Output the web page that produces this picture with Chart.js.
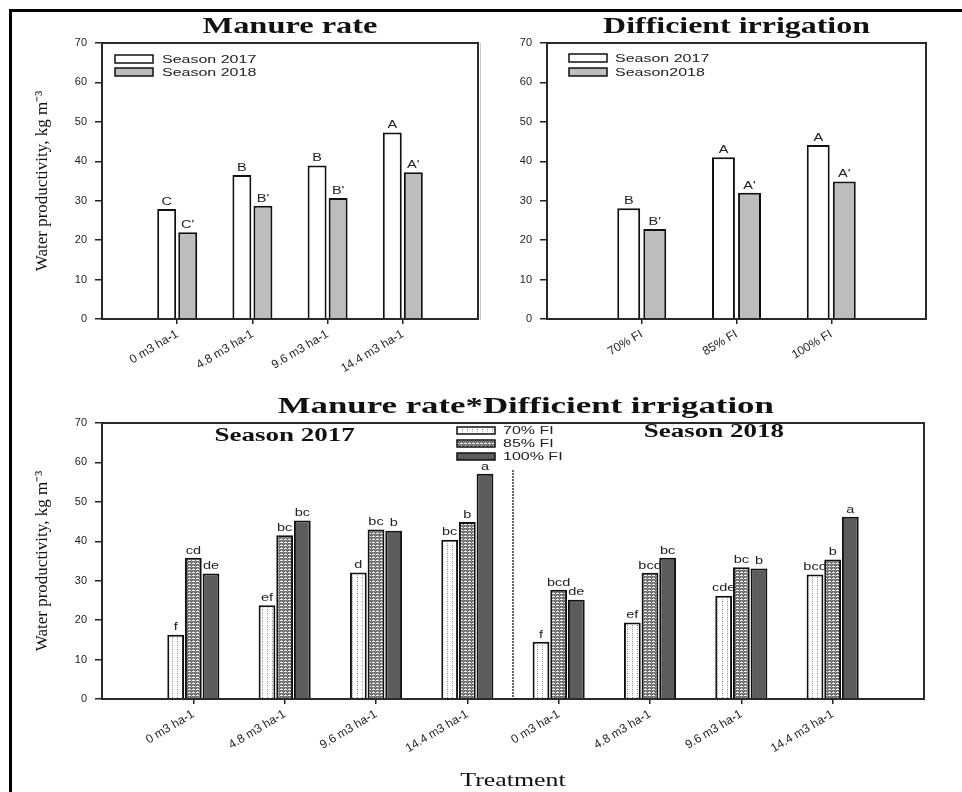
<!DOCTYPE html>
<html>
<head>
<meta charset="utf-8">
<script src="https://cdn.jsdelivr.net/npm/chart.js@4.4.1/dist/chart.umd.min.js"></script>
<style>
  body { margin: 0; background: #fff; }
  #page { position: relative; width: 962px; height: 792px; overflow: hidden; background: #fff; }
  #frame { position: absolute; left: 9px; top: 9px; width: 980px; height: 800px; border-top: 3px solid #000; border-left: 3px solid #000; }
  #cut { position: absolute; left: 480px; top: 43px; width: 1px; height: 277px; background: #c8c8c8; }
  canvas { position: absolute; }
  #cvManure { left: 0; top: 0; }
  #cvIrrig { left: 480px; top: 0; }
  #cvBoth { left: 0; top: 380px; }
</style>
</head>
<body>
<div id="page">
  <div id="frame"></div>
  <div id="cut"></div>
  <canvas id="cvManure" width="490" height="380"></canvas>
  <canvas id="cvIrrig" width="482" height="380"></canvas>
  <canvas id="cvBoth" width="962" height="412"></canvas>
</div>
<script>
// categories
const manureLabels = ['0 m3 ha-1', '4.8 m3 ha-1', '9.6 m3 ha-1', '14.4 m3 ha-1'];
const irrigLabels = ['70% FI', '85% FI', '100% FI'];

// manure rate, both seasons
const manure2017 = [27.9, 36.5, 38.9, 47.3];
const manure2018 = [22.0, 28.7, 30.7, 37.2];
const manureLetters2017 = ['C', 'B', 'B', 'A'];
const manureLetters2018 = ["C'", "B'", "B'", "A'"];

// deficient irrigation, both seasons
const irrig2017 = [28.1, 41.0, 44.1];
const irrig2018 = [22.8, 32.0, 34.9];
const irrigLetters2017 = ['B', 'A', 'A'];
const irrigLetters2018 = ["B'", "A'", "A'"];

// interaction: 4 manure rates of season 2017, then the 4 of season 2018
const fi70 = [16.3, 23.8, 32.1, 40.4, 14.5, 19.4, 26.2, 31.6];
const fi85 = [35.8, 41.5, 43.0, 44.9, 27.7, 32.0, 33.4, 35.4];
const fi100 = [31.8, 45.3, 42.7, 57.1, 25.2, 35.8, 33.1, 46.2];
const fi70Letters = ['f', 'ef', 'd', 'bc', 'f', 'ef', 'cde', 'bcd'];
const fi85Letters = ['cd', 'bc', 'bc', 'b', 'bcd', 'bcd', 'bc', 'b'];
const fi100Letters = ['de', 'bc', 'b', 'a', 'de', 'bc', 'b', 'a'];

const yTicks = [0, 10, 20, 30, 40, 50, 60, 70];

const SANS = '"Liberation Sans", Arial, sans-serif';
const SERIF = '"Liberation Serif", "Times New Roman", serif';

// empty slot on each side of the categories
function pad(arr, v) { return [v, ...arr, v]; }

function makePattern(bg, dots, w, h) {
  const c = document.createElement('canvas');
  c.width = w; c.height = h;
  const g = c.getContext('2d');
  g.fillStyle = bg;
  g.fillRect(0, 0, w, h);
  dots.forEach(d => { g.fillStyle = d[2]; g.fillRect(d[0], d[1], d[3] || 1, 1); });
  return g.createPattern(c, 'repeat');
}

const pat70 = makePattern('#ffffff', [[2, 1, '#7a7a7a'], [2, 3, '#bdbdbd']], 5, 4);
const pat85 = makePattern('#6a6a6a', [[0, 0, '#eeeeee', 3], [1, 2, '#bcbcbc'], [3, 1, '#9a9a9a']], 4, 3);

// the figure is a bit wide: text is stretched sideways
function wideText(ctx, text, x, y, sx) {
  ctx.save();
  ctx.translate(x, y);
  ctx.scale(sx, 1);
  ctx.fillText(text, 0, 0);
  ctx.restore();
}

// letters above the bars
const barLetters = {
  id: 'barLetters',
  afterDatasetsDraw(chart) {
    const ctx = chart.ctx;
    ctx.save();
    ctx.font = '10px ' + SANS;
    ctx.fillStyle = '#222';
    ctx.textAlign = 'center';
    ctx.textBaseline = 'bottom';
    chart.data.datasets.forEach((ds, di) => {
      if (!ds.letters) return;
      chart.getDatasetMeta(di).data.forEach((bar, i) => {
        if (ds.data[i] == null || !ds.letters[i]) return;
        wideText(ctx, ds.letters[i], bar.x, bar.y - 2, 1.45);
      });
    });
    ctx.restore();
  }
};

// box round the plot area
const plotFrame = {
  id: 'plotFrame',
  afterDraw(chart) {
    const a = chart.chartArea, ctx = chart.ctx;
    ctx.save();
    ctx.strokeStyle = '#2a2a2a';
    ctx.lineWidth = 2;
    ctx.strokeRect(a.left, a.top, a.right - a.left, a.bottom - a.top);
    ctx.restore();
  }
};

const boxLegend = {
  id: 'boxLegend',
  afterDraw(chart, args, o) {
    const ctx = chart.ctx;
    ctx.save();
    ctx.font = '10px ' + SANS;
    ctx.textAlign = 'left';
    ctx.textBaseline = 'middle';
    chart.data.datasets.forEach((ds, i) => {
      const y = o.y + i * o.row;
      ctx.fillStyle = ds.backgroundColor;
      ctx.fillRect(o.x, y, o.w, o.h);
      ctx.lineWidth = 1.5;
      ctx.strokeStyle = '#111';
      ctx.strokeRect(o.x, y, o.w, o.h);
      ctx.fillStyle = '#222';
      wideText(ctx, ds.label, o.textX, y + o.h / 2 + 1, 1.6);
    });
    ctx.restore();
  }
};

const panelText = {
  id: 'panelText',
  afterDraw(chart, args, o) {
    const ctx = chart.ctx, a = chart.chartArea;
    ctx.save();
    ctx.fillStyle = '#111';
    ctx.textAlign = 'center';
    ctx.textBaseline = 'alphabetic';
    (o.items || []).forEach(it => {
      ctx.font = it.font;
      const x = it.xValue != null ? chart.scales.x.getPixelForValue(it.xValue) : (a.left + a.right) / 2;
      const y = it.yValue != null ? chart.scales.y.getPixelForValue(it.yValue) : it.y;
      wideText(ctx, it.text, x, y, it.sx || 1);
    });
    ctx.restore();
  }
};

const divider = {
  id: 'divider',
  afterDatasetsDraw(chart, args, o) {
    if (o.at == null) return;
    const ctx = chart.ctx;
    const x = chart.scales.x.getPixelForValue(o.at);
    ctx.save();
    ctx.strokeStyle = '#333';
    ctx.lineWidth = 2;
    ctx.setLineDash([1.5, 1.5]);
    ctx.beginPath();
    ctx.moveTo(x, chart.scales.y.getPixelForValue(o.top));
    ctx.lineTo(x, chart.scales.y.getPixelForValue(0));
    ctx.stroke();
    ctx.restore();
  }
};

function scales(yWidth, xHeight, yTitle) {
  return {
    x: {
      offset: false,
      grid: {
        offset: false, drawOnChartArea: false, drawTicks: true, tickLength: 5, lineWidth: 1.5,
        color: c => (c.tick && c.tick.label === '') ? 'rgba(0,0,0,0)' : '#222'
      },
      border: { display: true, color: '#2a2a2a', width: 2 },
      ticks: { autoSkip: false, minRotation: 31, maxRotation: 31, padding: 3, color: '#222', font: { family: SANS, size: 12 } },
      afterFit(s) { s.height = xHeight; }
    },
    y: {
      min: 0, max: 70,
      afterBuildTicks(s) { s.ticks = yTicks.map(v => ({ value: v })); },
      grid: { drawOnChartArea: false, drawTicks: true, tickLength: 7, color: '#222', lineWidth: 1.5 },
      border: { display: true, color: '#2a2a2a', width: 2 },
      ticks: { padding: 8, color: '#222', font: { family: SANS, size: 11 } },
      title: yTitle ? { display: true, text: yTitle, color: '#111', font: { family: SERIF, size: 17 }, padding: { top: 32, bottom: 0 } } : { display: false },
      afterFit(s) { s.width = yWidth; }
    }
  };
}

const commonPlugins = { legend: { display: false }, tooltip: { enabled: false } };
const yName = 'Water productivity, kg m\u207B\u00B3';

new Chart(document.getElementById('cvManure'), {
  type: 'bar',
  data: {
    labels: pad(manureLabels, ''),
    datasets: [
      { label: 'Season 2017', data: pad(manure2017, null), letters: pad(manureLetters2017, ''), backgroundColor: '#ffffff', borderColor: '#111', borderWidth: 2 },
      { label: 'Season 2018', data: pad(manure2018, null), letters: pad(manureLetters2018, ''), backgroundColor: '#bdbdbd', borderColor: '#111', borderWidth: 2 }
    ]
  },
  options: {
    responsive: false, animation: false,
    categoryPercentage: 0.56, barPercentage: 0.9,
    layout: { padding: { left: 0, top: 43, right: 12, bottom: 0 } },
    scales: scales(102, 61, yName),
    plugins: {
      ...commonPlugins,
      boxLegend: { x: 115, y: 55, w: 38, h: 8, row: 13, textX: 162 },
      panelText: { items: [{ text: 'Manure rate', font: 'bold 24px ' + SERIF, y: 33, sx: 1.35 }] }
    }
  },
  plugins: [barLetters, plotFrame, boxLegend, panelText]
});

new Chart(document.getElementById('cvIrrig'), {
  type: 'bar',
  data: {
    labels: pad(irrigLabels, ''),
    datasets: [
      { label: 'Season 2017', data: pad(irrig2017, null), letters: pad(irrigLetters2017, ''), backgroundColor: '#ffffff', borderColor: '#111', borderWidth: 2 },
      { label: 'Season2018', data: pad(irrig2018, null), letters: pad(irrigLetters2018, ''), backgroundColor: '#bdbdbd', borderColor: '#111', borderWidth: 2 }
    ]
  },
  options: {
    responsive: false, animation: false,
    categoryPercentage: 0.55, barPercentage: 0.88,
    layout: { padding: { left: 0, top: 43, right: 36, bottom: 0 } },
    scales: scales(67, 61, null),
    plugins: {
      ...commonPlugins,
      boxLegend: { x: 89, y: 54, w: 38, h: 8, row: 14, textX: 135 },
      panelText: { items: [{ text: 'Difficient irrigation', font: 'bold 24px ' + SERIF, y: 33, sx: 1.33 }] }
    }
  },
  plugins: [barLetters, plotFrame, boxLegend, panelText]
});

new Chart(document.getElementById('cvBoth'), {
  type: 'bar',
  data: {
    labels: pad(manureLabels.concat(manureLabels), ''),
    datasets: [
      { label: '70% FI', data: pad(fi70, null), letters: pad(fi70Letters, ''), backgroundColor: pat70, borderColor: '#111', borderWidth: 2 },
      { label: '85% FI', data: pad(fi85, null), letters: pad(fi85Letters, ''), backgroundColor: pat85, borderColor: '#111', borderWidth: 2 },
      { label: '100% FI', data: pad(fi100, null), letters: pad(fi100Letters, ''), backgroundColor: '#5c5c5c', borderColor: '#111', borderWidth: 2 }
    ]
  },
  options: {
    responsive: false, animation: false,
    categoryPercentage: 0.58, barPercentage: 0.95,
    layout: { padding: { left: 0, top: 43, right: 38, bottom: 0 } },
    scales: scales(102, 93, yName),
    plugins: {
      ...commonPlugins,
      boxLegend: { x: 457, y: 47, w: 38, h: 7, row: 13, textX: 503 },
      divider: { at: 4.5, top: 58 },
      panelText: { items: [
        { text: 'Manure rate*Difficient irrigation', font: 'bold 24px ' + SERIF, xValue: 4.64, y: 33, sx: 1.45 },
        { text: 'Season 2017', font: 'bold 18px ' + SERIF, xValue: 2, yValue: 65.5, sx: 1.5 },
        { text: 'Season 2018', font: 'bold 18px ' + SERIF, xValue: 6.7, yValue: 66.5, sx: 1.5 },
        { text: 'Treatment', font: '19px ' + SERIF, y: 406, sx: 1.36 }
      ] }
    }
  },
  plugins: [barLetters, plotFrame, boxLegend, divider, panelText]
});
</script>
</body>
</html>
